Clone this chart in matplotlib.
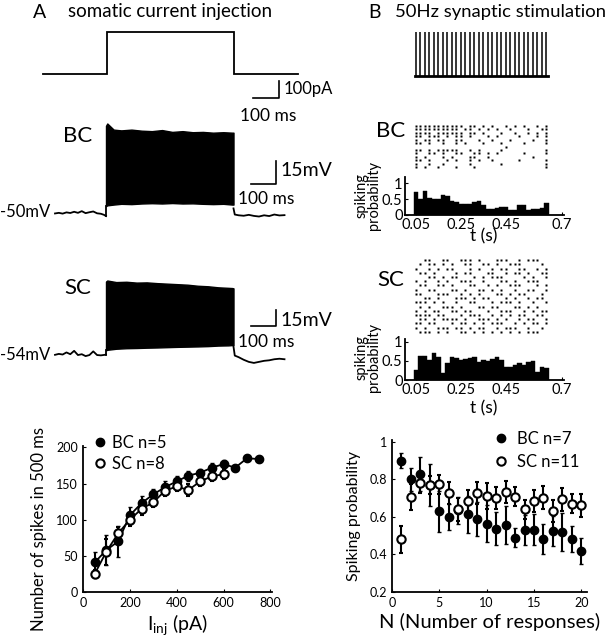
import matplotlib
matplotlib.use('Agg')
import matplotlib.pyplot as plt
from matplotlib.lines import Line2D

plt.rcParams['font.family'] = ['Lato', 'DejaVu Sans']
plt.rcParams['mathtext.fontset'] = 'custom'
plt.rcParams['mathtext.rm'] = 'Lato'
plt.rcParams['mathtext.it'] = 'Lato:italic'

# ---------------- data ----------------
# A: current step (ms, pA)
cur_t = [0, 250, 250, 750, 750, 1000]
cur_i = [0, 0, 250, 250, 0, 0]

# BC voltage trace (ms, mV): baseline before, spike envelope, baseline after
bc_t_pre = [0, 15, 30, 45, 60, 75, 90, 105, 120, 135, 150, 165, 180, 192, 200]
bc_v_pre = [-50.3, -49.9, -50.4, -49.6, -50.0, -49.2, -49.9, -48.8, -50.1, -49.5, -49.0, -50.2, -50.5, -51.2, -52.0]
bc_t_env = [200, 205, 230, 260, 300, 340, 380, 420, 460, 500, 540, 580, 620, 660, 695, 700]
bc_env_hi = [7.0, 8.5, 4.5, 4.0, 4.5, 3.8, 3.5, 4.2, 3.0, 3.5, 2.8, 3.0, 2.5, 2.8, 2.5, 2.5]
bc_env_lo = [-45.5, -45.0, -44.5, -44.0, -44.2, -43.8, -43.6, -43.8, -43.5, -43.8, -43.7, -44.0, -44.2, -44.0, -44.5, -44.5]
bc_t_post = [700, 705, 720, 740, 760, 780, 800, 820, 840, 860, 880, 900]
bc_v_post = [-47.0, -51.0, -51.5, -51.8, -51.2, -51.9, -52.3, -51.5, -52.0, -51.0, -51.6, -51.4]

# SC voltage trace (ms, mV)
sc_t_pre = [0, 15, 30, 45, 60, 75, 90, 105, 120, 135, 150, 165, 180, 195, 200]
sc_v_pre = [-54.8, -53.9, -54.5, -52.5, -54.2, -51.0, -55.0, -54.2, -56.0, -55.0, -51.5, -55.0, -55.3, -54.8, -54.5]
sc_t_env = [200, 205, 240, 280, 320, 360, 400, 440, 480, 520, 560, 600, 640, 680, 695, 700]
sc_env_hi = [15.0, 16.0, 14.5, 14.8, 14.0, 14.2, 13.5, 13.0, 12.5, 12.0, 11.0, 10.5, 9.5, 9.0, 8.8, 8.5]
sc_env_lo = [-50.5, -50.0, -49.0, -48.5, -48.3, -48.0, -47.8, -47.5, -47.2, -47.0, -46.8, -46.5, -46.0, -45.8, -45.5, -45.5]
sc_t_post = [700, 705, 720, 740, 760, 780, 800, 820, 840, 860, 880, 900]
sc_v_post = [-47.0, -55.5, -57.0, -59.5, -61.5, -62.5, -61.5, -60.5, -60.0, -59.0, -58.5, -59.0]

# B: 50 Hz stimulus times (s)
stim_times = [0.05, 0.07, 0.09, 0.11, 0.13, 0.15, 0.17, 0.19, 0.21, 0.23,
              0.25, 0.27, 0.29, 0.31, 0.33, 0.35, 0.37, 0.39, 0.41, 0.43,
              0.45, 0.47, 0.49, 0.51, 0.53, 0.55, 0.57, 0.59, 0.61, 0.63]

bc_raster = [
    "111111111110110101001010100101",
    "111111111101101010100100010011",
    "111101111110110100010010010101",
    "110111010110100010100001000101",
    "101101100110001001000100001001",
    "110100100101000100010000100001",
    "000000000000000000001000000000",
    "110101111100101000010000000001",
    "100110100110011010100000100001",
    "101000101000110010000000001000",
    "110100010100101001000001000001",
    "100100100000100000010000000001",
    "101001000100010000000000000001",
]
sc_raster = [
    "001100110011101000111001011100",
    "010110101001100110100111000010",
    "100101011000101001011001100101",
    "011010000101100011001011010011",
    "000110101100010101110000101001",
    "101001010011100100011010011100",
    "011001101000110010100111000101",
    "100110001101001101010010011001",
    "110001110010101000110101100010",
    "001101000111010110001010010110",
    "111010100100110001011101001001",
    "010100111010001101100011010100",
    "101011001101100010011100101011",
    "111101100010111001010101100110",
    "011010111101001110101001011001",
    "110110001011010101110010101101",
    "101001110110101100101110010010",
    "011101010011010101010101011100",
]
bc_hist = [0.72, 0.5, 0.76, 0.52, 0.5, 0.5, 0.63, 0.58, 0.45, 0.4,
           0.34, 0.33, 0.35, 0.4, 0.43, 0.32, 0.2, 0.2, 0.22, 0.26,
           0.26, 0.15, 0.15, 0.32, 0.32, 0.15, 0.2, 0.2, 0.22, 0.38]
sc_hist = [0.26, 0.63, 0.63, 0.52, 0.7, 0.6, 0.17, 0.43, 0.6, 0.56,
           0.52, 0.55, 0.56, 0.6, 0.48, 0.52, 0.5, 0.54, 0.6, 0.52,
           0.35, 0.35, 0.39, 0.43, 0.39, 0.48, 0.5, 0.22, 0.35, 0.3]

# A bottom: F-I curves
fi_bc_x = [50, 100, 150, 200, 250, 300, 350, 400, 450, 500, 550, 600, 650, 700, 750]
fi_bc_y = [41, 58, 70, 106, 123, 135, 145, 153, 161, 165, 172, 177, 172, 185, 184]
fi_bc_e = [15, 21, 22, 12, 10, 8, 8, 7, 7, 5, 7, 6, 4, 4, 4]
fi_sc_x = [50, 100, 150, 200, 250, 300, 350, 400, 450, 500, 550, 600]
fi_sc_y = [25, 56, 81, 100, 115, 124, 140, 146, 141, 153, 160, 163]
fi_sc_e = [5, 18, 9, 8, 8, 7, 7, 6, 8, 7, 7, 7]

# B bottom: spiking probability vs response number
n_resp = [1, 2, 3, 4, 5, 6, 7, 8, 9, 10, 11, 12, 13, 14, 15, 16, 17, 18, 19, 20]
sp_bc = [0.90, 0.80, 0.83, 0.77, 0.63, 0.60, 0.635, 0.614, 0.59, 0.564,
         0.538, 0.556, 0.49, 0.53, 0.533, 0.484, 0.525, 0.52, 0.484, 0.417]
sp_bc_e = [0.04, 0.06, 0.09, 0.11, 0.11, 0.07, 0.07, 0.10, 0.09, 0.10,
           0.09, 0.10, 0.05, 0.08, 0.08, 0.08, 0.08, 0.10, 0.07, 0.07]
sp_sc = [0.48, 0.707, 0.78, 0.77, 0.774, 0.728, 0.64, 0.685, 0.728, 0.71,
         0.70, 0.733, 0.707, 0.64, 0.684, 0.703, 0.632, 0.694, 0.671, 0.662]
sp_sc_e = [0.07, 0.07, 0.05, 0.05, 0.05, 0.06, 0.06, 0.06, 0.06, 0.07,
           0.06, 0.06, 0.05, 0.05, 0.06, 0.06, 0.06, 0.06, 0.05, 0.06]

# ---------------- layout helpers ----------------
W, H = 605, 640
fig = plt.figure(figsize=(W / 100, H / 100), dpi=100)


def box_ax(l, t, r, b):
    return fig.add_axes([l / W, 1 - b / H, (r - l) / W, (b - t) / H])


def mapped_ax(l, t, r, b, xpx0, xval0, xs, ypx0, yval0, ys):
    ax = box_ax(l, t, r, b)
    ax.set_xlim(xval0 + (l - xpx0) / xs, xval0 + (r - xpx0) / xs)
    ax.set_ylim(yval0 - (b - ypx0) / ys, yval0 + (ypx0 - t) / ys)
    ax.axis('off')
    return ax


def ftext(x, y, s, **kw):
    kw.setdefault('va', 'center')
    fig.text(x / W, 1 - y / H, s, **kw)


K = 'black'

# ---------------- Panel A ----------------
ftext(33, 12, 'A', fontsize=14)
ftext(68, 12, 'somatic current injection', fontsize=13.5)

axc = mapped_ax(30, 20, 300, 125, 43, 0, 0.255, 74, 0, 0.168)
axc.plot(cur_t, cur_i, color=K, lw=1.3, solid_joinstyle='miter')
axc.plot([825, 925, 925], [-143, -143, -43], color=K, lw=1.2, clip_on=False)
ftext(284, 89, '100pA', fontsize=12)
ftext(268, 116, '100 ms', fontsize=12.5, ha='center')


def draw_trace(ax, tp, vp, te, hi, lo, tq, vq):
    ax.plot(tp, vp, color=K, lw=1.3)
    ax.fill_between(te, lo, hi, color=K, lw=1.0, edgecolor=K)
    ax.plot([tp[-1], te[0]], [vp[-1], lo[0]], color=K, lw=1.3)
    ax.plot(tq, vq, color=K, lw=1.3)


axbc = mapped_ax(40, 115, 300, 235, 55, 0, 0.255, 213, -50, 1.53)
draw_trace(axbc, bc_t_pre, bc_v_pre, bc_t_env, bc_env_hi, bc_env_lo, bc_t_post, bc_v_post)
axbc.plot([766.7, 866.7, 866.7], [-31, -31, -16], color=K, lw=1.2, clip_on=False)
ftext(78, 136, 'BC', fontsize=16, ha='center')
ftext(0, 212, '-50mV', fontsize=12, ha='left')
ftext(280, 170, '15mV', fontsize=14)
ftext(266, 199, '100 ms', fontsize=12.5, ha='center')

axsc = mapped_ax(40, 265, 300, 375, 55, 0, 0.255, 354, -54, 1.05)
draw_trace(axsc, sc_t_pre, sc_v_pre, sc_t_env, sc_env_hi, sc_env_lo, sc_t_post, sc_v_post)
axsc.plot([766.7, 866.7, 866.7], [-27.3, -27.3, -12.3], color=K, lw=1.2, clip_on=False)
ftext(78, 288, 'SC', fontsize=16, ha='center')
ftext(0, 355, '-54mV', fontsize=12, ha='left')
ftext(280, 320, '15mV', fontsize=14)
ftext(266, 342, '100 ms', fontsize=12.5, ha='center')

# ---------------- Panel B ----------------
ftext(368, 12, 'B', fontsize=14)
ftext(395, 12, '50Hz synaptic stimulation', fontsize=13.3)

TX0, TS = 404.7, 225.0
axst = mapped_ax(400, 25, 570, 85, TX0, 0, TS, 76, 0, 44)
axst.vlines(stim_times, 0, 1, color=K, lw=1.1)
axst.plot([stim_times[0] - 0.005, stim_times[-1] + 0.008], [0, 0], color=K, lw=2.0)


def raster_ax(rows, t, b):
    ax = box_ax(400, t, 570, b)
    ax.set_xlim((400 - TX0) / TS, (570 - TX0) / TS)
    ax.set_ylim(len(rows) - 0.5, -0.5)
    ax.axis('off')
    for i, row in enumerate(rows):
        ts = [stim_times[j] for j, c in enumerate(row) if c == '1']
        ax.plot(ts, [i] * len(ts), 's', ms=1.9, color=K, mec='none')
    return ax


def hist_ax(vals, t, b, ytop):
    ax = box_ax(TX0, t, TX0 + 0.71 * TS, b)
    ax.bar(stim_times, vals, width=0.02, color=K, edgecolor=K, lw=0.3)
    ax.set_xlim(0, 0.71)
    ax.set_ylim(0, ytop)
    for s in ['top', 'right']:
        ax.spines[s].set_visible(False)
    for s in ['left', 'bottom']:
        ax.spines[s].set_linewidth(1.3)
    ax.set_xticks([0.05, 0.25, 0.45, 0.7])
    ax.set_xticklabels(['0.05', '0.25', '0.45', '0.7'])
    ax.set_yticks([0, 0.5, 1])
    ax.set_yticklabels(['0', '0.5', '1'])
    ax.tick_params(direction='in', length=2.5, labelsize=10.5)
    ax.tick_params(axis='y', pad=1.5)
    ax.tick_params(axis='x', pad=2.5)
    return ax


raster_ax(bc_raster, 124.3, 168.7)
ftext(391, 131, 'BC', fontsize=16, ha='center')
hist_ax(bc_hist, 177, 215, 1.19)
ftext(368, 196, 'spiking\nprobability', fontsize=10.5, ha='center', rotation=90, linespacing=0.85)
ftext(484, 236, 't (s)', fontsize=12.5, ha='center')

raster_ax(sc_raster, 258, 334)
ftext(391, 280, 'SC', fontsize=16, ha='center')
hist_ax(sc_hist, 338.5, 380, 1.08)
ftext(368, 358, 'spiking\nprobability', fontsize=10.5, ha='center', rotation=90, linespacing=0.85)
ftext(484, 408, 't (s)', fontsize=12.5, ha='center')


# ---------------- bottom plots ----------------
def style_ax(ax):
    for s in ['top', 'right']:
        ax.spines[s].set_visible(False)
    for s in ['left', 'bottom']:
        ax.spines[s].set_linewidth(1.3)
    ax.tick_params(direction='in', length=2.5, labelsize=9)


axfi = box_ax(83, 446, 272, 592)
axfi.errorbar(fi_bc_x, fi_bc_y, yerr=fi_bc_e, fmt='o-', color=K, mfc=K, mec=K, ms=6,
              lw=1.3, elinewidth=1.5, capsize=1.5, clip_on=False)
axfi.errorbar(fi_sc_x, fi_sc_y, yerr=fi_sc_e, fmt='o-', color=K, mfc='white', mec=K, ms=6,
              mew=1.5, lw=1.3, elinewidth=1.5, capsize=1.5, clip_on=False)
axfi.set_xlim(0, 807)
axfi.set_ylim(0, 202)
axfi.set_xticks([0, 200, 400, 600, 800])
axfi.set_yticks([0, 50, 100, 150, 200])
style_ax(axfi)
axfi.set_xlabel(r'$\mathregular{I_{inj}}$ (pA)', fontsize=14, labelpad=2)
axfi.set_ylabel('Number of spikes in 500 ms', fontsize=12)
axfi.yaxis.set_label_coords(-0.19, 0.43)
h_bc = Line2D([], [], marker='o', ls='none', color=K, ms=6)
h_sc = Line2D([], [], marker='o', ls='none', color=K, mfc='white', mew=1.5, ms=6)
axfi.legend([h_bc, h_sc], ['BC n=5', 'SC n=8'], loc='upper left',
            bbox_to_anchor=(93 / W, 1 - 435 / H), bbox_transform=fig.transFigure,
            frameon=False, fontsize=12, handlelength=0.8, handletextpad=0.35,
            labelspacing=0.3, borderpad=0, borderaxespad=0)

axsp = box_ax(392, 440, 587, 592)
axsp.errorbar(n_resp, sp_bc, yerr=sp_bc_e, fmt='o', color=K, mfc=K, mec=K, ms=6,
              elinewidth=1.5, capsize=1.5, clip_on=False)
axsp.errorbar(n_resp, sp_sc, yerr=sp_sc_e, fmt='o', color=K, mfc='white', mec=K, ms=6,
              mew=1.5, elinewidth=1.5, capsize=1.5, clip_on=False)
axsp.set_xlim(0, 20.6)
axsp.set_ylim(0.2, 1.01)
axsp.set_xticks([0, 5, 10, 15, 20])
axsp.set_yticks([0.2, 0.4, 0.6, 0.8, 1])
axsp.set_yticklabels(['0.2', '0.4', '0.6', '0.8', '1'])
style_ax(axsp)
axsp.set_xlabel('N (Number of responses)', fontsize=14.5, labelpad=3)
axsp.set_ylabel('Spiking probability', fontsize=11.5)
axsp.yaxis.set_label_coords(-0.16, 0.5)
axsp.legend([h_bc, h_sc], ['BC n=7', 'SC n=11'], loc='upper left',
            bbox_to_anchor=(494 / W, 1 - 431 / H), bbox_transform=fig.transFigure,
            frameon=False, fontsize=12, handlelength=0.8, handletextpad=0.6,
            labelspacing=0.4, borderpad=0, borderaxespad=0)

fig.savefig('out.png', dpi=100)
